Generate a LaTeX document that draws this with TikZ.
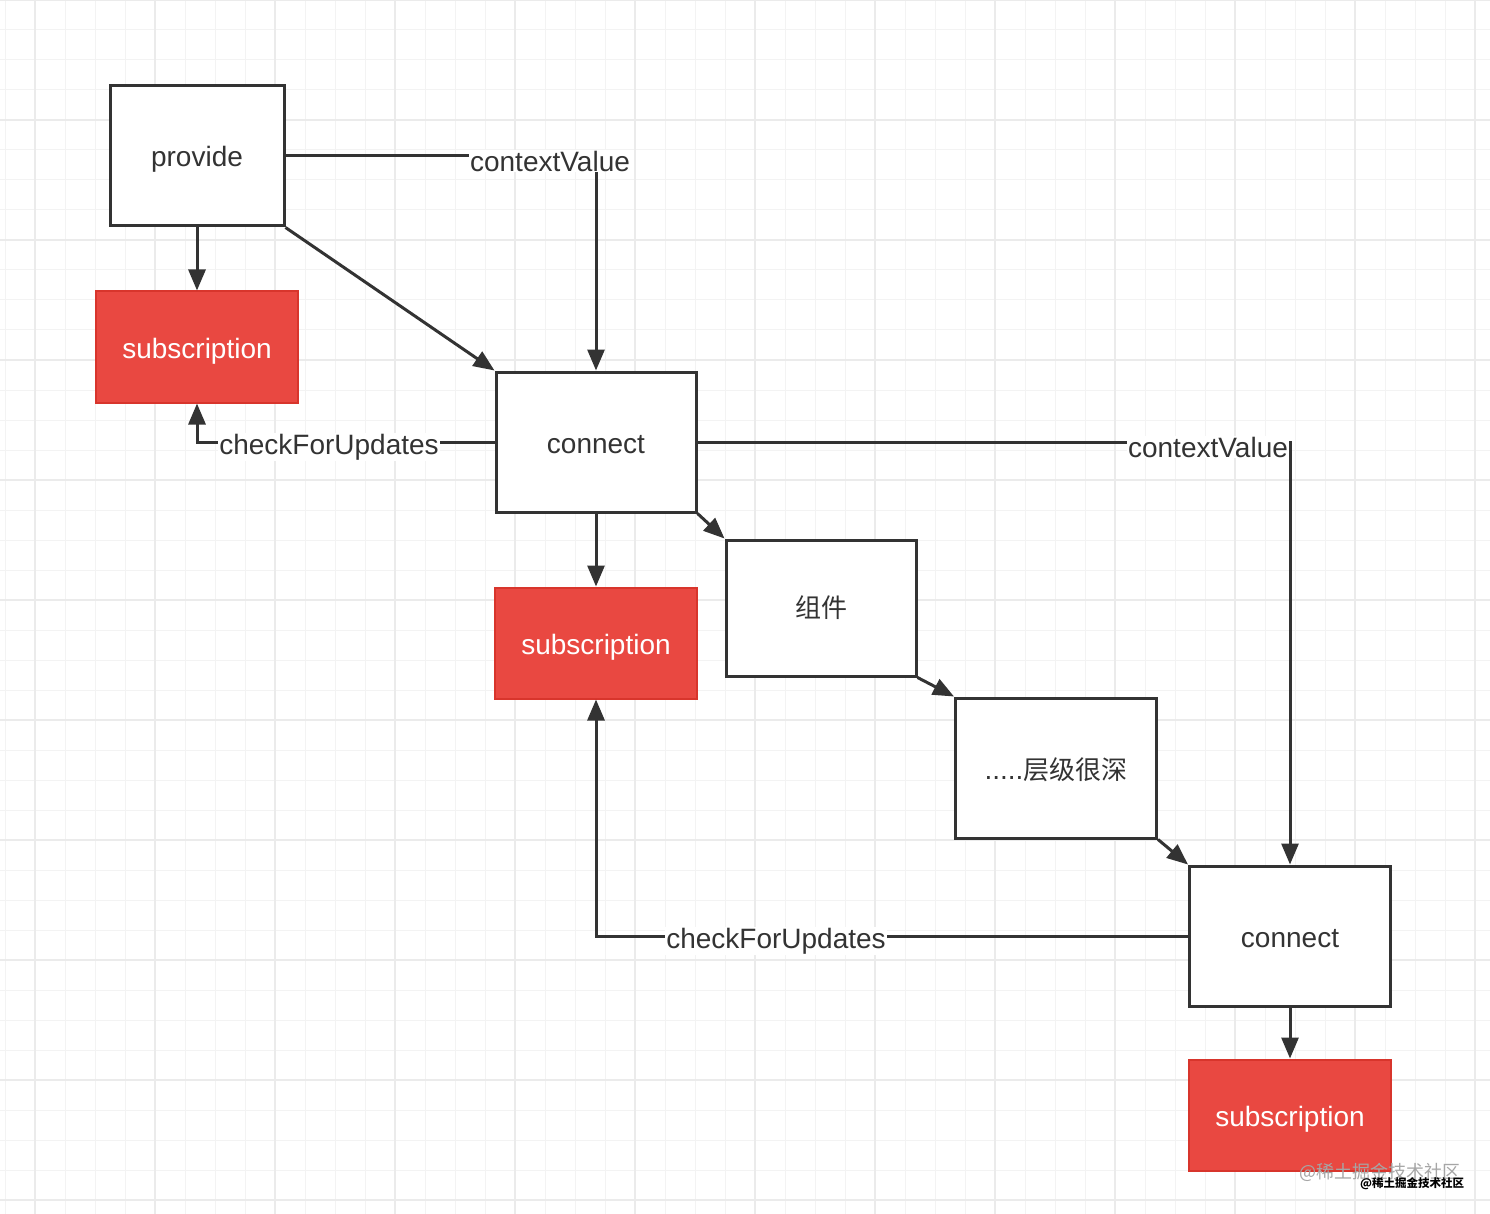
\documentclass[tikz,border=0pt]{standalone}
\usepackage{fontspec}
\setmainfont{Liberation Sans}
\newfontfamily\cjk{Noto Sans CJK SC}
\usetikzlibrary{arrows.meta}
\definecolor{ink}{HTML}{333333}
\definecolor{redfill}{HTML}{E94841}
\definecolor{redline}{HTML}{D8352C}
\definecolor{gridminor}{HTML}{F3F3F3}
\definecolor{gridmajor}{HTML}{EBEBEB}
\tikzset{
  box/.style={draw=ink, line width=3pt, fill=white, text=ink, inner sep=0pt,
    minimum width=#1, minimum height=140pt, font=\fontsize{28}{32}\selectfont,
    text height=22pt, text depth=0pt},
  cjkbox/.style={draw=ink, line width=3pt, fill=white, text=ink, inner sep=0pt,
    minimum width=#1, minimum height=136pt, font=\cjk\fontsize{26}{30}\selectfont},
  subbox/.style={draw=redline, line width=2pt, fill=redfill, text=white, inner sep=0pt,
    minimum width=202pt, minimum height=111pt, font=\fontsize{28}{32}\selectfont,
    text height=22pt, text depth=0pt},
  conn/.style={draw=ink, line width=3pt, -{Triangle[length=21pt,width=17pt]}},
  lbl/.style={fill=white, text=ink, inner sep=1pt, font=\fontsize{28}{32}\selectfont},
  wm/.style={inner sep=0pt, anchor=west}
}
\begin{document}
\begin{tikzpicture}[x=1pt,y=-1pt]
\useasboundingbox (0,0) rectangle (1490,1214);
\fill[white] (0,0) rectangle (1490,1214);
% grid
\foreach \x in {5,35,...,1490} \draw[gridminor, line width=1pt] (\x,0) -- (\x,1214);
\foreach \y in {0,30,...,1214} \draw[gridminor, line width=1pt] (0,\y) -- (1490,\y);
\foreach \x in {35,155,...,1490} \draw[gridmajor, line width=1.5pt] (\x,0) -- (\x,1214);
\foreach \y in {0,120,...,1214} \draw[gridmajor, line width=1.5pt] (0,\y) -- (1490,\y);

% nodes
\node[box=174pt] (provide) at (197,156) {provide};
\node[subbox] (sub1) at (197,347) {subscription};
\node[box=200pt] (c1) at (596,442) {connect};
\node[subbox] (sub2) at (596,643) {subscription};
\node[cjkbox=190pt] (zj) at (821,608) {组件};
\node[box=201pt, text height=23pt] (deep) at (1056,768) {.....{\cjk\fontsize{26}{30}\selectfont 层级很深}};
\node[box=201pt] (c2) at (1290,936) {connect};
\node[subbox] (sub3) at (1290,1115) {subscription};

% connectors
\draw[conn] (provide.south) -- (sub1.north);
\draw[conn] (provide.south east) -- (c1.north west);
\draw[conn] (provide.east) -| (c1.north);
\draw[conn] (c1.west) -| (sub1.south);
\draw[conn] (c1.south) -- (sub2.north);
\draw[conn] (c1.east) -| (c2.north);
\draw[conn] (c1.south east) -- (zj.north west);
\draw[conn] (zj.south east) -- (deep.north west);
\draw[conn] (deep.south east) -- (c2.north west);
\draw[conn] (c2.west) -| (sub2.south);
\draw[conn] (c2.south) -- (sub3.north);

% edge labels
\node[lbl] (l1) at (550,161) {contextValue};
\node[lbl] (l2) at (329,447) {checkForUpdates};
\node[lbl] (l3) at (1208,447) {contextValue};
\node[lbl] (l4) at (776,941) {checkForUpdates};

% watermark
\node[wm, text=black!35, font=\cjk\fontsize{18}{20}\selectfont] (wm1) at (1299,1172) {@稀土掘金技术社区};
\node[wm, text=black, font=\cjk\bfseries\fontsize{11.5}{13}\selectfont] (wm2) at (1360,1184) {@稀土掘金技术社区};
\end{tikzpicture}
\end{document}
